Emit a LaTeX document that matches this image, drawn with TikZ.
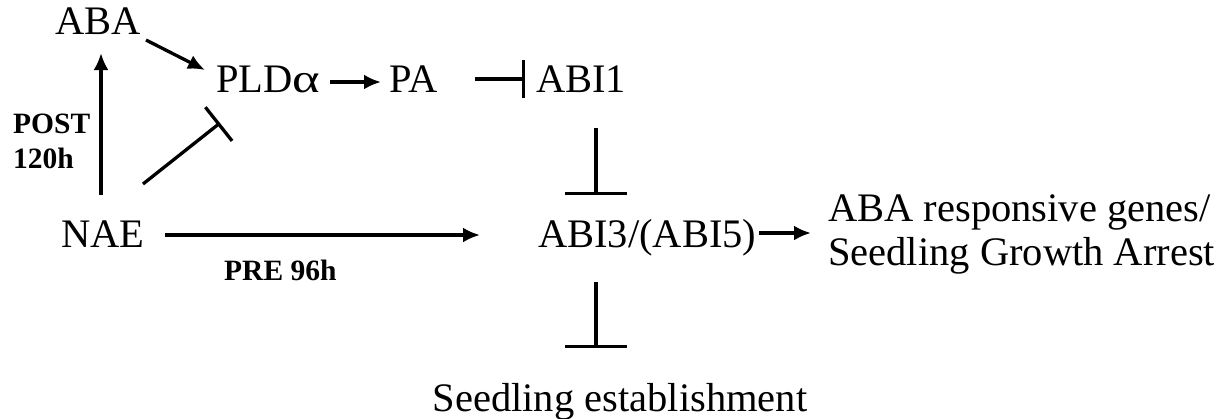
\documentclass[tikz,border=0pt]{standalone}
\usepackage{fontspec}
\usepackage{graphicx}
\setmainfont{Liberation Serif}
\usetikzlibrary{arrows.meta,calc}

\tikzset{
  gene/.style={inner sep=0pt, anchor=base west, font=\fontsize{40.5}{46}\selectfont},
  tag/.style={inner sep=0pt, anchor=base west, font=\fontsize{29.5}{33}\selectfont\bfseries},
  act/.style={line width=3.3pt, -{Latex[length=17pt,width=15pt]}},
  inhib/.style={line width=3.3pt, -{Bar[width=#1,line width=3.3pt]}},
}

\begin{document}
\begin{tikzpicture}[x=1pt,y=-1pt]
  \fill[white] (0,0) rectangle (1231,418);
  \useasboundingbox (0,0) rectangle (1231,418);

  % genes and outcomes
  \node[gene] (aba)  at (55,34)   {ABA};
  \node[gene] (pld)  at (216,92)  {PLD\scalebox{1.3}[1]{α}};
  \node[gene] (pa)   at (389,92)  {PA};
  \node[gene] (abi1) at (536,92)  {ABI1};
  \node[gene] (nae)  at (61,247)  {NAE};
  \node[gene] (abi3) at (538,247) {ABI3/(ABI5)};
  \node[gene] (resp) at (828,221) {ABA responsive genes/};
  \node[gene] (arrest) at (828,265) {Seedling Growth Arrest};
  \node[gene, anchor=base] (seed) at (620,411) {Seedling establishment};

  % timing labels
  \node[tag] (post) at (13,133) {POST};
  \node[tag] (hpost) at (13,168) {120h};
  \node[tag] (pre) at (224,280) {PRE 96h};

  % activation
  \draw[act] ($(aba.base west)+(91,6)$) -- ($(pld.base west)+(-11,-22)$);
  \draw[act] ($(nae.base west)+(40,-52)$) -- ($(aba.base west)+(46,19)$);
  \draw[act] ($(pld.base west)+(114,-10)$) -- ($(pa.base west)+(-8,-10)$);
  \draw[act] ($(nae.base west)+(104,-12)$) -- ($(abi3.base west)+(-58,-12)$);
  \draw[act] ($(abi3.base west)+(221,-14)$) -- ($(resp.base west)+(-17,12)$);

  % inhibition
  \draw[inhib=43pt] ($(nae.base west)+(82,-63)$) -- ($(pld.base west)+(4,31)$);
  \draw[inhib=38pt] ($(pa.base west)+(86,-13)$) -- ($(abi1.base west)+(-11,-13)$);
  \draw[inhib=62pt] ($(abi1.base west)+(60,36)$) -- ($(abi3.base west)+(58,-52)$);
  \draw[inhib=62pt] ($(abi3.base west)+(58,35)$) -- ($(seed.base)+(-24,-63)$);
\end{tikzpicture}
\end{document}
